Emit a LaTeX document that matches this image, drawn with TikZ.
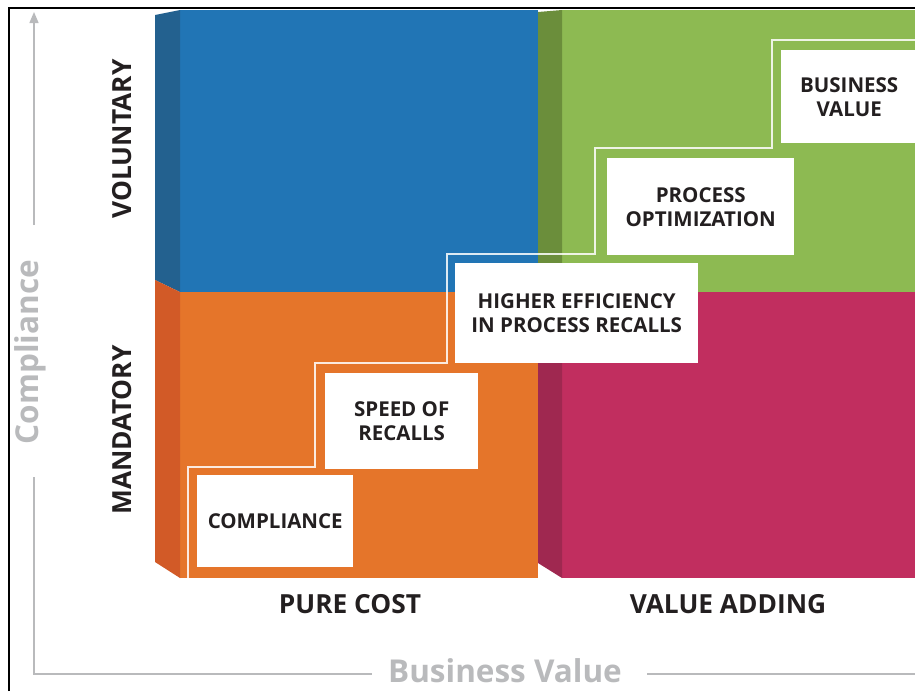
\documentclass[tikz,border=0pt]{standalone}
\usepackage{fontspec}
\setmainfont{Open Sans}
\usepackage{xcolor}
\usepackage{tikz}
\usetikzlibrary{arrows.meta}
\definecolor{bluex}{HTML}{2175B5}
\definecolor{blueside}{HTML}{23618F}
\definecolor{orangex}{HTML}{E5752A}
\definecolor{orangeside}{HTML}{D25A27}
\definecolor{greenx}{HTML}{8DBA52}
\definecolor{greenside}{HTML}{6B8E3B}
\definecolor{magx}{HTML}{C12E5F}
\definecolor{magside}{HTML}{9F2850}
\definecolor{inkx}{HTML}{231F20}
\definecolor{grayx}{HTML}{B9BABC}
\tikzset{
  box/.style={fill=white,anchor=north west,align=center,inner sep=0pt,text=inkx,
    font=\fontsize{20.5}{24}\selectfont\bfseries},
  cat/.style={text=inkx,font=\fontsize{26.3}{30}\selectfont\bfseries},
  axlbl/.style={text=grayx,font=\fontsize{31.5}{34}\selectfont\bfseries},
  axis/.style={grayx,line width=1.5pt},
  stair/.style={white,opacity=0.85,line width=1.5pt}
}
\begin{document}
\begin{tikzpicture}[x=1pt,y=-1pt]
\useasboundingbox (0,0) rectangle (915,691);
% four quadrants, each with a darker side face
\fill[bluex] (180,10) rectangle (538,292);
\fill[blueside] (155,15)--(180,10)--(180,292)--(155,280)--cycle;
\fill[orangex] (180,292) rectangle (538,578);
\fill[orangeside] (155,280)--(180,292)--(180,578)--(155,562)--cycle;
\fill[greenx] (562,10) rectangle (915,292);
\fill[greenside] (538,12)--(562,10)--(562,292)--(538,280)--cycle;
\fill[magx] (562,292) rectangle (915,578);
\fill[magside] (538,280)--(562,292)--(562,578)--(538,563)--cycle;
% staircase outline
\draw[stair] (188,578)--(188,467)--(315,467)--(315,363)--(447,363)--(447,254)
  --(595,254)--(595,148)--(772,148)--(772,40)--(915,40);
% steps
\node[box,minimum width=156pt,minimum height=92pt] (compl) at (197,475) {COMPLIANCE};
\node[box,minimum width=153pt,minimum height=96pt] (speed) at (325,373) {SPEED OF\\RECALLS};
\node[box,minimum width=243pt,minimum height=100pt] (effic) at (455,263) {HIGHER EFFICIENCY\\IN PROCESS RECALLS};
\node[box,minimum width=187pt,minimum height=97pt] (optim) at (607,158) {PROCESS\\OPTIMIZATION};
\node[box,minimum width=136pt,minimum height=93pt] (busval) at (781,50) {BUSINESS\\VALUE};
% row and column labels
\node[cat,rotate=90] (volun) at (122,139) {VOLUNTARY};
\node[cat,rotate=90] (mandat) at (122,430) {MANDATORY};
\node[cat] (pure) at (350,604) {PURE COST};
\node[cat] (adding) at (728,604) {VALUE ADDING};
% axes
\node[axlbl,rotate=90] (yax) at (30,352) {Compliance};
\node[axlbl] (xax) at (505,671) {Business Value};
\coordinate (ytip) at (34,12);
\draw[axis,-{Triangle[length=11pt,width=9pt]}] (34,225) -- (ytip);
\draw[axis] (34,477) -- (34,674) -- (372,674);
\draw[axis] (647,674) -- (915,674);
% frame
\draw[line width=2pt] (9,691) -- (9,8) -- (915,8);
\end{tikzpicture}
\end{document}
